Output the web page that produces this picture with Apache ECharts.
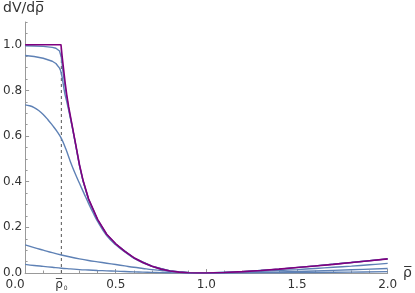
<!DOCTYPE html>
<html>
<head>
<meta charset="utf-8">
<script src="https://cdn.jsdelivr.net/npm/echarts@6/dist/echarts.min.js"></script>
<style>
  html, body { margin: 0; padding: 0; background: #fff; }
  #chart { width: 415px; height: 293px; }
</style>
</head>
<body>
<div id="chart"></div>
<script>
// 曲线数据
const rho0 = 0.2;

const purpleX = [0, 0.1, 0.198, 0.205, 0.21, 0.215, 0.22, 0.23, 0.24, 0.26, 0.28, 0.3, 0.32, 0.35, 0.4, 0.45, 0.5, 0.55, 0.6, 0.65, 0.7, 0.75, 0.8, 0.85, 0.9, 0.95, 1.0, 1.1, 1.2, 1.3, 1.4, 1.5, 1.6, 1.7, 1.8, 1.9, 2.0];
const purpleY = [1.0, 1.0, 1.0, 0.945, 0.91, 0.875, 0.84, 0.78, 0.73, 0.645, 0.56, 0.475, 0.405, 0.325, 0.235, 0.17, 0.128, 0.095, 0.067, 0.046, 0.03, 0.017, 0.009, 0.004, 0.0012, 0.0002, 0, 0.002, 0.006, 0.011, 0.017, 0.024, 0.031, 0.038, 0.046, 0.054, 0.062];

const blue1X = [0, 0.05, 0.1, 0.15, 0.17, 0.18, 0.19, 0.195, 0.2, 0.205, 0.21, 0.215, 0.22, 0.23, 0.24, 0.26, 0.28, 0.3, 0.32, 0.35, 0.4, 0.45, 0.5, 0.6, 0.7, 0.8, 0.9, 1.0, 1.2, 1.4, 1.6, 1.8, 2.0];
const blue1Y = [0.996, 0.995, 0.993, 0.989, 0.985, 0.981, 0.973, 0.965, 0.945, 0.91, 0.875, 0.85, 0.82, 0.77, 0.722, 0.642, 0.558, 0.472, 0.403, 0.323, 0.233, 0.169, 0.127, 0.066, 0.03, 0.009, 0.0012, 0, 0.006, 0.017, 0.031, 0.046, 0.062];

const blue2X = [0, 0.05, 0.1, 0.15, 0.17, 0.18, 0.19, 0.195, 0.2, 0.205, 0.21, 0.215, 0.22, 0.23, 0.24, 0.26, 0.28, 0.3, 0.32, 0.35, 0.4, 0.45, 0.5, 0.6, 0.7, 0.8, 0.9, 1.0, 1.2, 1.4, 1.6, 1.8, 2.0];
const blue2Y = [0.953, 0.949, 0.941, 0.928, 0.918, 0.91, 0.898, 0.889, 0.875, 0.855, 0.83, 0.805, 0.783, 0.75, 0.715, 0.64, 0.556, 0.47, 0.402, 0.322, 0.232, 0.168, 0.126, 0.065, 0.029, 0.009, 0.0012, 0, 0.006, 0.017, 0.031, 0.046, 0.062];

const blue3X = [0, 0.025, 0.05, 0.075, 0.1, 0.125, 0.15, 0.175, 0.2, 0.225, 0.25, 0.275, 0.3, 0.325, 0.35, 0.375, 0.4, 0.45, 0.5, 0.55, 0.6, 0.65, 0.7, 0.75, 0.8, 0.85, 0.9, 1.0, 1.1, 1.2, 1.3, 1.4, 1.5, 1.6, 1.7, 1.8, 1.9, 2.0];
const blue3Y = [0.737, 0.733, 0.725, 0.712, 0.695, 0.673, 0.648, 0.622, 0.59, 0.543, 0.488, 0.438, 0.393, 0.349, 0.305, 0.264, 0.226, 0.164, 0.124, 0.092, 0.065, 0.044, 0.029, 0.016, 0.008, 0.0035, 0.001, 0, 0.0015, 0.004, 0.0075, 0.011, 0.015, 0.02, 0.025, 0.03, 0.036, 0.042];

const blue4X = [0, 0.05, 0.1, 0.15, 0.2, 0.25, 0.3, 0.35, 0.4, 0.45, 0.5, 0.55, 0.6, 0.65, 0.7, 0.75, 0.8, 0.85, 0.9, 0.95, 1.0, 1.2, 1.4, 1.6, 1.8, 2.0];
const blue4Y = [0.123, 0.111, 0.1, 0.089, 0.079, 0.07, 0.062, 0.055, 0.049, 0.043, 0.037, 0.031, 0.025, 0.02, 0.015, 0.011, 0.007, 0.004, 0.002, 0.0005, 0, 0.002, 0.0045, 0.009, 0.014, 0.02];

const blue5X = [0, 0.05, 0.1, 0.15, 0.2, 0.25, 0.3, 0.35, 0.4, 0.45, 0.5, 0.55, 0.6, 0.65, 0.7, 0.75, 0.8, 0.85, 0.9, 0.95, 1.0, 1.2, 1.4, 1.6, 1.8, 2.0];
const blue5Y = [0.038, 0.033, 0.029, 0.025, 0.021, 0.018, 0.015, 0.013, 0.011, 0.0095, 0.008, 0.0065, 0.005, 0.0038, 0.0027, 0.0018, 0.001, 0.0005, 0.0002, 0.00005, 0, 0.0005, 0.0012, 0.0025, 0.004, 0.006];

// 刻度
const xLabelValues = [0, rho0, 0.5, 1.0, 1.5, 2.0];
const yLabelValues = [0, 0.2, 0.4, 0.6, 0.8, 1.0];

const BLUE = '#5e81b5';
const PURPLE = '#800080';
const FONT = 'DejaVu Sans';

function pairs(xs, ys) {
  return xs.map((x, i) => [x, ys[i]]);
}

function blueSeries(xs, ys, smooth) {
  return {
    type: 'line',
    data: pairs(xs, ys),
    showSymbol: false,
    smooth: smooth,
    lineStyle: { color: BLUE, width: 1.4 },
    silent: true,
    z: 2
  };
}

const chart = echarts.init(document.getElementById('chart'), null, { renderer: 'canvas' });

const option = {
  animation: false,
  textStyle: { fontFamily: FONT },
  grid: { left: 22, right: 14, top: 22, bottom: 20, containLabel: false },
  xAxis: {
    type: 'value',
    min: 0,
    max: 2,
    interval: 0.5,
    name: 'ρ\u0305',
    nameLocation: 'end',
    nameGap: 3,
    nameTextStyle: { fontSize: 14, color: '#333', fontFamily: FONT, padding: [0, 0, 18, 0] },
    axisLine: { lineStyle: { color: '#999', width: 1 } },
    axisTick: { inside: true, length: 4, lineStyle: { color: '#999' } },
    minorTick: { show: true, splitNumber: 5, length: 2.5, lineStyle: { color: '#999' } },
    splitLine: { show: false },
    axisLabel: {
      customValues: xLabelValues,
      margin: 6,
      fontSize: 12,
      color: '#333',
      formatter: function (v) {
        if (Math.abs(v - rho0) < 1e-9) return '{r|ρ\u0305}{s|0}';
        if (v === 0) return '{z|0.0}';
        return v.toFixed(1);
      },
      rich: {
        r: { fontSize: 12, color: '#333', fontFamily: FONT },
        s: { fontSize: 6, color: '#333', fontFamily: FONT, verticalAlign: 'bottom', padding: [6, 0, 0, 1] },
        z: { fontSize: 12, color: '#333', fontFamily: FONT, padding: [0, 20, 0, 0] }
      }
    }
  },
  yAxis: [
    {
      type: 'value',
      min: 0,
      max: 1.1,
      interval: 0.05,
      axisLine: { show: true, lineStyle: { color: '#999', width: 1 } },
      axisTick: { show: true, inside: true, length: 2.5, lineStyle: { color: '#999' } },
      axisLabel: { show: false },
      splitLine: { show: false }
    },
    {
      type: 'value',
      position: 'left',
      offset: 0,
      min: 0,
      max: 1.1,
      interval: 0.2,
      axisLine: { show: false },
      axisTick: { show: true, inside: true, length: 4, customValues: yLabelValues, lineStyle: { color: '#999' } },
      axisLabel: {
        customValues: yLabelValues,
        margin: 3,
        fontSize: 12,
        color: '#333',
        formatter: function (v) { return v.toFixed(1); }
      },
      splitLine: { show: false }
    }
  ],
  graphic: [
    {
      type: 'text',
      left: 3,
      top: 1,
      style: { text: 'dV\u0305/dρ\u0305', fontSize: 14, fill: '#333', fontFamily: FONT }
    }
  ],
  series: [
    blueSeries(blue5X, blue5Y, 0.4),
    blueSeries(blue4X, blue4Y, 0.4),
    blueSeries(blue3X, blue3Y, 0.4),
    blueSeries(blue2X, blue2Y, false),
    blueSeries(blue1X, blue1Y, false),
    {
      type: 'line',
      data: [[rho0, 0], [rho0, 1.0]],
      showSymbol: false,
      lineStyle: { color: '#555', width: 1, type: [3, 3] },
      silent: true,
      z: 1
    },
    {
      type: 'line',
      data: pairs(purpleX, purpleY),
      showSymbol: false,
      lineStyle: { color: PURPLE, width: 1.6 },
      silent: true,
      z: 3
    }
  ]
};

chart.setOption(option);
</script>
</body>
</html>
